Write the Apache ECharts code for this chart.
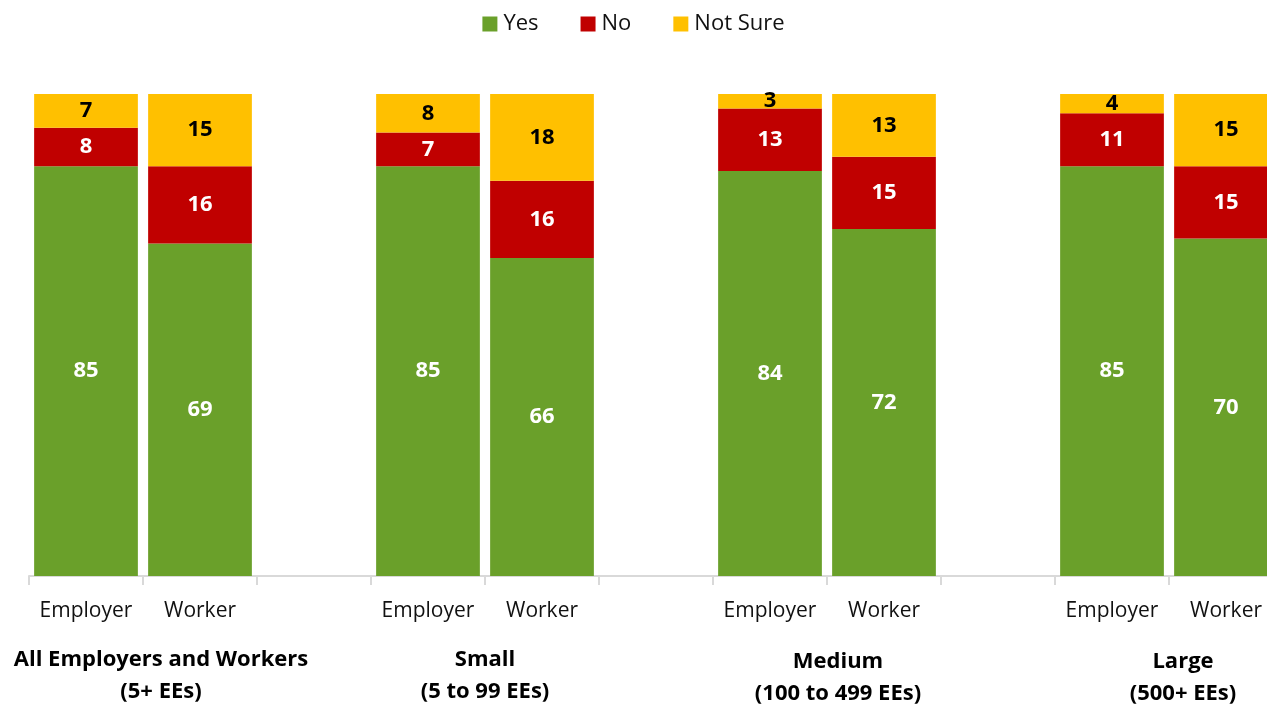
<!DOCTYPE html>
<html>
<head>
<meta charset="utf-8">
<script src="https://cdn.jsdelivr.net/npm/echarts@6/dist/echarts.min.js"></script>
<style>html,body{margin:0;padding:0;background:#fff}#c{width:1267px;height:704px}</style>
</head>
<body>
<div id="c"></div>
<script>
const categories = ['Employer','Worker','','Employer','Worker','','Employer','Worker','','Employer','Worker'];
const yesValues = [85, 69, null, 85, 66, null, 84, 72, null, 85, 70];
const noValues = [8, 16, null, 7, 16, null, 13, 15, null, 11, 15];
const notSureValues = [7, 15, null, 8, 18, null, 3, 13, null, 4, 15];
const groupLabels = ['All Employers and Workers\n(5+ EEs)', 'Small\n(5 to 99 EEs)', 'Medium\n(100 to 499 EEs)', 'Large\n(500+ EEs)'];

const FONT = 'Open Sans';
const chart = echarts.init(document.getElementById('c'), null, {renderer: 'canvas'});

function labelCfg(color) {
  return {
    show: true, position: 'inside', color: color,
    fontFamily: FONT, fontWeight: 'bold', fontSize: 22,
    formatter: p => (p.value == null ? '' : p.value)
  };
}

const groupPos = [
  {x: 161, y: 644},
  {x: 485, y: 644},
  {x: 838, y: 646},
  {x: 1183, y: 646}
];

chart.setOption({
  animation: false,
  backgroundColor: '#fff',
  textStyle: {fontFamily: FONT},
  legend: {
    top: 8, left: 'center',
    itemWidth: 15, itemHeight: 15, itemGap: 42,
    icon: 'rect',
    textStyle: {fontFamily: FONT, fontSize: 22, color: '#111', padding: [0, 0, 0, 1]},
    data: ['Yes', 'No', 'Not Sure']
  },
  grid: {left: 29, right: -16, top: 94, height: 482, containLabel: false, outerBoundsMode: 'none'},
  xAxis: {
    type: 'category', data: categories,
    axisLine: {lineStyle: {color: '#d9d9d9', width: 2}},
    axisTick: {show: true, length: 9, lineStyle: {color: '#d9d9d9', width: 2}},
    axisLabel: {interval: 0, color: '#111', fontFamily: FONT, fontSize: 21, margin: 25}
  },
  yAxis: {type: 'value', min: 0, max: 100, show: false, splitLine: {show: false}},
  series: [
    {name: 'Yes', type: 'bar', stack: 'a', data: yesValues, barCategoryGap: '9%',
     itemStyle: {color: '#6aa02a'}, label: labelCfg('#fff')},
    {name: 'No', type: 'bar', stack: 'a', data: noValues,
     itemStyle: {color: '#c00000'}, label: labelCfg('#fff')},
    {name: 'Not Sure', type: 'bar', stack: 'a', data: notSureValues,
     itemStyle: {color: '#ffc000'}, label: labelCfg('#000')}
  ],
  graphic: groupLabels.map((t, i) => ({
    type: 'text', x: groupPos[i].x, y: groupPos[i].y,
    style: {text: t, fill: '#000', font: 'bold 22px "' + FONT + '"', align: 'center', lineHeight: 32, verticalAlign: 'top'}
  }))
});
</script>
</body>
</html>
